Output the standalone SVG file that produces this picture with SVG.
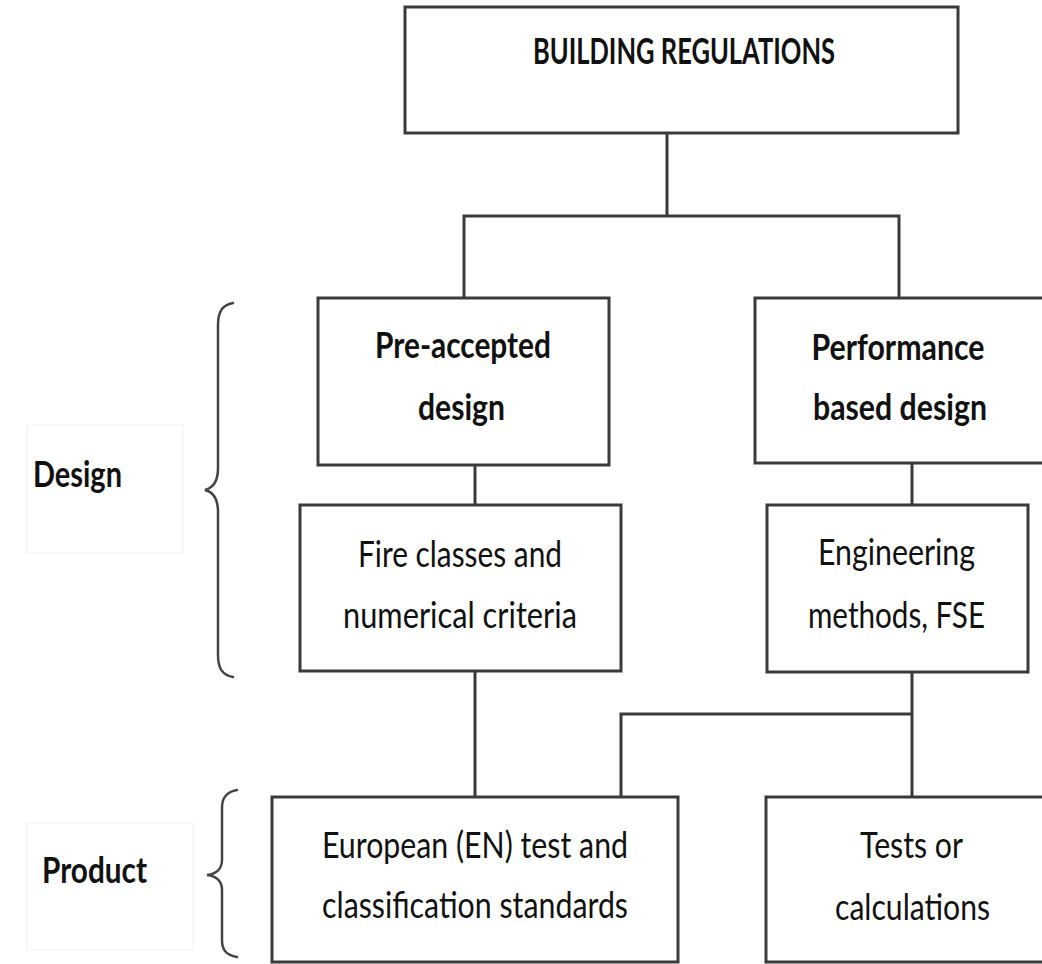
<svg xmlns="http://www.w3.org/2000/svg" width="1042" height="964" viewBox="0 0 1042 964">
<style>
.box{fill:#fff;stroke:#3a3a3a;stroke-width:3}
.ln{fill:none;stroke:#3a3a3a;stroke-width:3;stroke-linecap:square}
.br{fill:none;stroke:#444;stroke-width:2.5;stroke-linecap:round}
.faint{fill:#fff;stroke:#f6f6f6;stroke-width:1.5}
text{font-family:Lato,"Open Sans","Liberation Sans",sans-serif;font-size:36px;fill:#111}
.b{font-weight:bold}
.c{text-anchor:middle}
</style>
<rect width="1042" height="964" fill="#fff"/>
<g id="connectors">
<path class="ln" d="M667 133V216M464 216H899M464 216V298M899 216V298"/>
<path class="ln" d="M475 465V505M912 463V505"/>
<path class="ln" d="M475 671V797M912 672V797M621 714H912M621 714V797"/>
</g>
<g id="building-regulations">
<rect class="box" x="405" y="7" width="553" height="126"/>
<text class="b c" x="684" y="64" textLength="302" lengthAdjust="spacingAndGlyphs">BUILDING REGULATIONS</text>
</g>
<g id="pre-accepted">
<rect class="box" x="318" y="298" width="291" height="167"/>
<text class="b c" x="463" y="358" textLength="176" lengthAdjust="spacingAndGlyphs">Pre-accepted</text>
<text class="b c" x="461.5" y="420" textLength="87" lengthAdjust="spacingAndGlyphs">design</text>
</g>
<g id="performance">
<rect class="box" x="755" y="298" width="300" height="165"/>
<text class="b c" x="898" y="360" textLength="173" lengthAdjust="spacingAndGlyphs">Performance</text>
<text class="b c" x="900" y="420" textLength="174" lengthAdjust="spacingAndGlyphs">based design</text>
</g>
<g id="fire-classes">
<rect class="box" x="300" y="505" width="321" height="166"/>
<text class="c" x="460" y="567" textLength="204" lengthAdjust="spacingAndGlyphs">Fire classes and</text>
<text class="c" x="460" y="628" textLength="234" lengthAdjust="spacingAndGlyphs">numerical criteria</text>
</g>
<g id="engineering">
<rect class="box" x="767" y="505" width="261" height="167"/>
<text class="c" x="896.5" y="565" textLength="157" lengthAdjust="spacingAndGlyphs">Engineering</text>
<text class="c" x="896.5" y="628" textLength="177" lengthAdjust="spacingAndGlyphs">methods, FSE</text>
</g>
<g id="european">
<rect class="box" x="272" y="797" width="406" height="165"/>
<text class="c" x="475" y="858" textLength="306" lengthAdjust="spacingAndGlyphs">European (EN) test and</text>
<text class="c" x="475" y="918" textLength="306" lengthAdjust="spacingAndGlyphs">classification standards</text>
</g>
<g id="tests">
<rect class="box" x="766" y="797" width="290" height="165"/>
<text class="c" x="911.5" y="858" textLength="103" lengthAdjust="spacingAndGlyphs">Tests or</text>
<text class="c" x="912.5" y="920" textLength="155" lengthAdjust="spacingAndGlyphs">calculations</text>
</g>
<g id="design-label">
<rect class="faint" x="27" y="425" width="156" height="128"/>
<text class="b" x="33" y="487" textLength="89" lengthAdjust="spacingAndGlyphs">Design</text>
<path class="br" d="M233 303C222 305 218 312 218 325V468C218 482 213 488 205 490C213 492 218 498 218 512V655C218 668 222 675 233 677"/>
</g>
<g id="product-label">
<rect class="faint" x="27" y="823" width="166" height="127"/>
<text class="b" x="42" y="883" textLength="105" lengthAdjust="spacingAndGlyphs">Product</text>
<path class="br" d="M237 790C226 792 222 798 222 808V860C222 869 216 874 207 875C216 876 222 881 222 890V940C222 950 226 955 237 957"/>
</g>
</svg>
